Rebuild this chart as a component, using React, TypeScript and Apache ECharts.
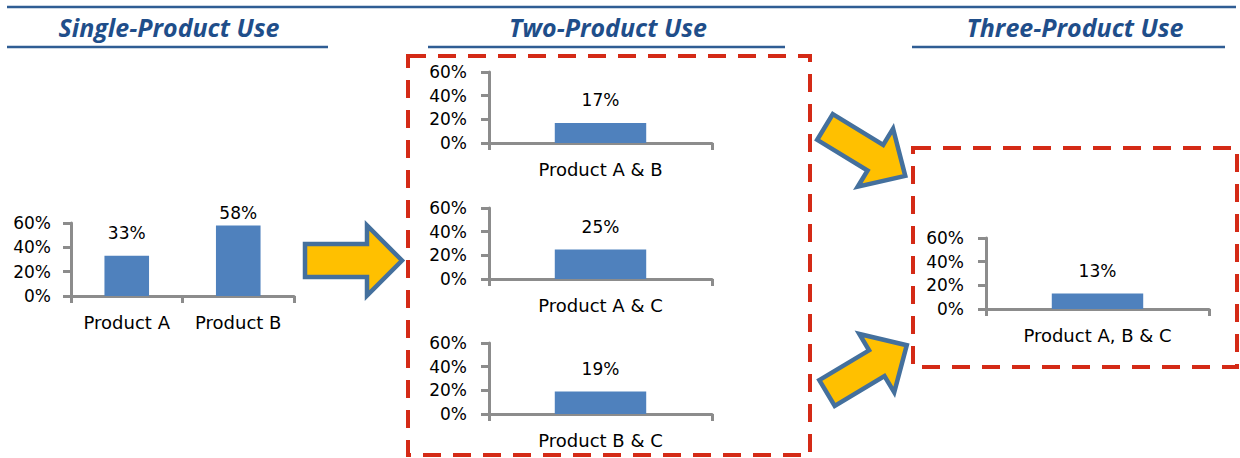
import React, { useEffect, useRef } from "react";
import * as echarts from "echarts";

const titles = ["Single-Product Use", "Two-Product Use", "Three-Product Use"];
const singleCategories = ["Product A", "Product B"];
const singleValues = [33, 58];
const twoCategories = ["Product A & B", "Product A & C", "Product B & C"];
const twoValues = [17, 25, 19];
const threeCategories = ["Product A, B & C"];
const threeValues = [13];
const yMin = 0;
const yMax = 60;
const yStep = 20;

const FONT = "'DejaVu Sans', 'Noto Sans', sans-serif";
const AXIS_COLOR = "#8c8c8c";
const BAR_COLOR = "#4f81bd";
const TITLE_COLOR = "#1f4e8a";
const RULE_COLOR = "#2f5d94";
const RED = "#d42a16";

type Panel = {
  categories: string[];
  values: number[];
  left: number;
  top: number;
  width: number;
  height: number;
  barWidth: string;
  yMargin: number;
};

const panels: Panel[] = [
  { categories: singleCategories, values: singleValues, left: 71, top: 223, width: 223, height: 73, barWidth: "40%", yMargin: 20 },
  { categories: [twoCategories[0]], values: [twoValues[0]], left: 489, top: 72, width: 223, height: 71, barWidth: "41%", yMargin: 22 },
  { categories: [twoCategories[1]], values: [twoValues[1]], left: 489, top: 208, width: 223, height: 71, barWidth: "41%", yMargin: 22 },
  { categories: [twoCategories[2]], values: [twoValues[2]], left: 489, top: 343, width: 223, height: 71, barWidth: "41%", yMargin: 22 },
  { categories: threeCategories, values: threeValues, left: 986, top: 238, width: 223, height: 71, barWidth: "41%", yMargin: 22 },
];

function arrowPoints(L: number, sh: number, hh: number, hl: number): number[][] {
  return [
    [0, -sh],
    [L - hl, -sh],
    [L - hl, -hh],
    [L, 0],
    [L - hl, hh],
    [L - hl, sh],
    [0, sh],
  ];
}

function arrow(x: number, y: number, L: number, sh: number, hh: number, hl: number, deg: number) {
  return {
    type: "polygon",
    x,
    y,
    rotation: (deg * Math.PI) / 180,
    shape: { points: arrowPoints(L, sh, hh, hl) },
    style: { fill: "#ffc000", stroke: "#44709d", lineWidth: 4.5, lineJoin: "miter" },
    z: 10,
  };
}

export default function App() {
  const ref = useRef<HTMLDivElement>(null);

  useEffect(() => {
    if (!ref.current) return;
    const chart = echarts.init(ref.current, undefined, { renderer: "svg" });

    const grids = panels.map((p) => ({ left: p.left, top: p.top, width: p.width, height: p.height, containLabel: false }));
    const xAxes = panels.map((p, i) => ({
      type: "category",
      gridIndex: i,
      data: p.categories,
      axisLine: { show: true, lineStyle: { color: AXIS_COLOR, width: 3 } },
      axisTick: { show: true, length: 7, lineStyle: { color: AXIS_COLOR, width: 3 } },
      axisLabel: { color: "#000", fontFamily: FONT, fontSize: 18, margin: 17, interval: 0, hideOverlap: false },
    }));
    const yAxes = panels.map((p, i) => ({
      type: "value",
      gridIndex: i,
      min: yMin,
      max: yMax,
      interval: yStep,
      splitLine: { show: false },
      axisLine: { show: true, lineStyle: { color: AXIS_COLOR, width: 3 } },
      axisTick: { show: true, length: 8, lineStyle: { color: AXIS_COLOR, width: 3 } },
      axisLabel: { color: "#000", fontFamily: FONT, fontSize: 17, margin: p.yMargin, formatter: "{value}%" },
    }));
    const series = panels.map((p, i) => ({
      type: "bar",
      xAxisIndex: i,
      yAxisIndex: i,
      barWidth: p.barWidth,
      itemStyle: { color: BAR_COLOR },
      label: {
        show: true,
        position: "top",
        distance: 14,
        color: "#000",
        fontFamily: FONT,
        fontSize: 17,
        formatter: "{c}%",
      },
      data: p.values.map((v) => (v > 50 ? { value: v, label: { distance: 4 } } : v)),
    }));

    const titleFont = "italic bold 25px 'Open Sans', Lato, sans-serif";
    const graphic: any[] = [
      { type: "line", shape: { x1: 7, y1: 7, x2: 1236, y2: 7 }, style: { stroke: RULE_COLOR, lineWidth: 2.5 } },
      { type: "line", shape: { x1: 7, y1: 47, x2: 328, y2: 47 }, style: { stroke: RULE_COLOR, lineWidth: 2.5 } },
      { type: "line", shape: { x1: 428, y1: 47, x2: 785, y2: 47 }, style: { stroke: RULE_COLOR, lineWidth: 2.5 } },
      { type: "line", shape: { x1: 912, y1: 47, x2: 1225, y2: 47 }, style: { stroke: RULE_COLOR, lineWidth: 2.5 } },
      { type: "text", x: 169, y: 27, style: { text: titles[0], font: titleFont, fill: TITLE_COLOR, textAlign: "center", textVerticalAlign: "middle" } },
      { type: "text", x: 608, y: 27, style: { text: titles[1], font: titleFont, fill: TITLE_COLOR, textAlign: "center", textVerticalAlign: "middle" } },
      { type: "text", x: 1075, y: 27, style: { text: titles[2], font: titleFont, fill: TITLE_COLOR, textAlign: "center", textVerticalAlign: "middle" } },
      { type: "rect", shape: { x: 408, y: 56, width: 402, height: 399 }, style: { fill: "none", stroke: RED, lineWidth: 4, lineDash: [18, 12] } },
      { type: "rect", shape: { x: 913, y: 148, width: 324, height: 219 }, style: { fill: "none", stroke: RED, lineWidth: 4, lineDash: [18, 12] } },
      arrow(305, 260.5, 97, 16.5, 35, 35, 0),
      arrow(825, 127, 94, 15, 34, 35, -31.3),
      arrow(827, 393, 93, 15, 34, 35, 30.9),
    ];

    chart.setOption({
      animation: false,
      backgroundColor: "#fff",
      grid: grids,
      xAxis: xAxes,
      yAxis: yAxes,
      series,
      graphic,
    } as any);

    return () => chart.dispose();
  }, []);

  return <div ref={ref} style={{ position: "absolute", left: 0, top: 0, width: 1240, height: 458 }} />;
}
